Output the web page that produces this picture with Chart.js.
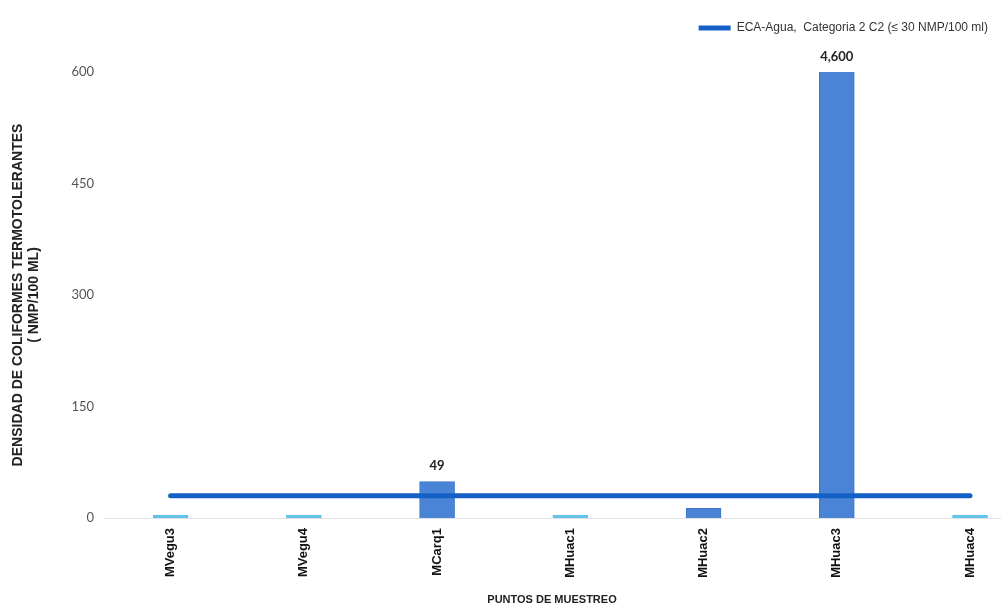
<!DOCTYPE html>
<html>
<head>
<meta charset="utf-8">
<script src="https://cdn.jsdelivr.net/npm/chart.js@4"></script>
<style>
  html, body { margin: 0; padding: 0; background: #fff; overflow: hidden; }
  #wrap { width: 1002px; height: 607px; position: relative; }
</style>
</head>
<body>
<div id="wrap"><canvas id="chart"></canvas></div>
<script>
// Sampling points and measured values (NMP/100 ml)
const categories = ['MVegu3', 'MVegu4', 'MCarq1', 'MHuac1', 'MHuac2', 'MHuac3', 'MHuac4'];
const coliformValues = [1.8, 1.8, 49, 1.8, 13, 4600, 1.8];
const valueLabels = ['', '', '49', '', '', '4,600', ''];
const ecaLimit = [30, 30, 30, 30, 30, 30, 30];
const yTicks = [0, 150, 300, 450, 600];

const barColor = '#4a84d6';
const lowBarColor = '#62c2ea';
const lineColor = '#1560c6';

// Labels above bars (clipped bars get their label above the plot top)
const valueLabelPlugin = {
  id: 'valueLabels',
  afterDatasetsDraw(chart) {
    const meta = chart.getDatasetMeta(1);
    const ctx = chart.ctx;
    ctx.save();
    ctx.font = "bold 13px Lato, 'Liberation Sans', sans-serif";
    ctx.fillStyle = '#222';
    ctx.textAlign = 'center';
    ctx.textBaseline = 'bottom';
    meta.data.forEach((bar, i) => {
      if (!valueLabels[i]) return;
      const top = Math.max(bar.y, chart.chartArea.top);
      ctx.fillText(valueLabels[i], bar.x, top - 9);
    });
    ctx.restore();
  }
};

// Extra space under the legend
const legendGapPlugin = {
  id: 'legendGap',
  beforeInit(chart) {
    const fit = chart.legend.fit;
    chart.legend.fit = function () {
      fit.bind(chart.legend)();
      this.height = 62;
    };
  }
};

new Chart(document.getElementById('chart'), {
  data: {
    datasets: [
      {
        type: 'line',
        label: 'ECA-Agua,  Categoria 2 C2 (\u2264 30 NMP/100 ml)',
        data: ecaLimit.map((v, i) => ({ x: i, y: v })),
        borderColor: lineColor,
        backgroundColor: lineColor,
        borderWidth: 5,
        borderCapStyle: 'round',
        pointRadius: 0,
        order: 0
      },
      {
        type: 'bar',
        label: 'Coliformes termotolerantes',
        data: coliformValues.map((v, i) => ({ x: i, y: v })),
        backgroundColor: coliformValues.map(v => v < 5 ? lowBarColor : barColor),
        borderColor: coliformValues.map(v => v < 5 ? lowBarColor : '#3f76c8'),
        borderWidth: 1,
        barThickness: 35,
        minBarLength: 3,
        order: 1
      }
    ]
  },
  options: {
    responsive: true,
    maintainAspectRatio: false,
    animation: false,
    layout: { padding: { left: 8, right: 2, top: 10, bottom: 0 } },
    plugins: {
      legend: {
        position: 'top',
        align: 'end',
        labels: {
          font: { family: "'Liberation Sans', Arial, sans-serif", size: 12 },
          color: '#333',
          boxWidth: 32,
          boxHeight: 5,
          padding: 12,
          generateLabels: (chart) => Chart.defaults.plugins.legend.labels.generateLabels(chart)
            .filter(item => item.datasetIndex === 0)
            .map(item => ({ ...item, lineWidth: 0, fillStyle: lineColor }))
        }
      },
      tooltip: { enabled: false }
    },
    scales: {
      x: {
        type: 'linear',
        offset: false,
        min: -0.5,
        max: 6.225,
        grid: { display: false },
        border: { display: true, color: '#e2e2e2', width: 1 },
        afterBuildTicks: (scale) => {
          scale.ticks = categories.map((_, i) => ({ value: i }));
        },
        afterFit: (scale) => { scale.height = 89; },
        ticks: {
          autoSkip: false,
          minRotation: 90,
          maxRotation: 90,
          padding: 2,
          color: '#111',
          font: { family: "'Liberation Sans', Arial, sans-serif", size: 13, weight: 'bold' },
          callback: (value) => categories[value]
        },
        title: {
          display: true,
          text: 'PUNTOS DE MUESTREO',
          color: '#222',
          font: { family: "'Liberation Sans', Arial, sans-serif", size: 11, weight: 'bold' },
          padding: { top: 0, bottom: 0 }
        }
      },
      y: {
        min: 0,
        max: 600,
        grid: { display: false },
        border: { display: false },
        afterBuildTicks: (scale) => {
          scale.ticks = yTicks.map(v => ({ value: v }));
        },
        afterFit: (scale) => { scale.width = 96; },
        ticks: {
          padding: 2,
          color: '#555',
          font: { family: "Lato, 'Open Sans', sans-serif", size: 13 }
        },
        title: {
          display: true,
          text: ['DENSIDAD DE COLIFORMES TERMOTOLERANTES', '( NMP/100 ML)'],
          color: '#222',
          font: { family: "'Liberation Sans', Arial, sans-serif", size: 14, weight: 'bold', lineHeight: 1.15 },
          padding: { top: 2, bottom: 0 }
        }
      }
    }
  },
  plugins: [valueLabelPlugin, legendGapPlugin]
});
</script>
</body>
</html>
